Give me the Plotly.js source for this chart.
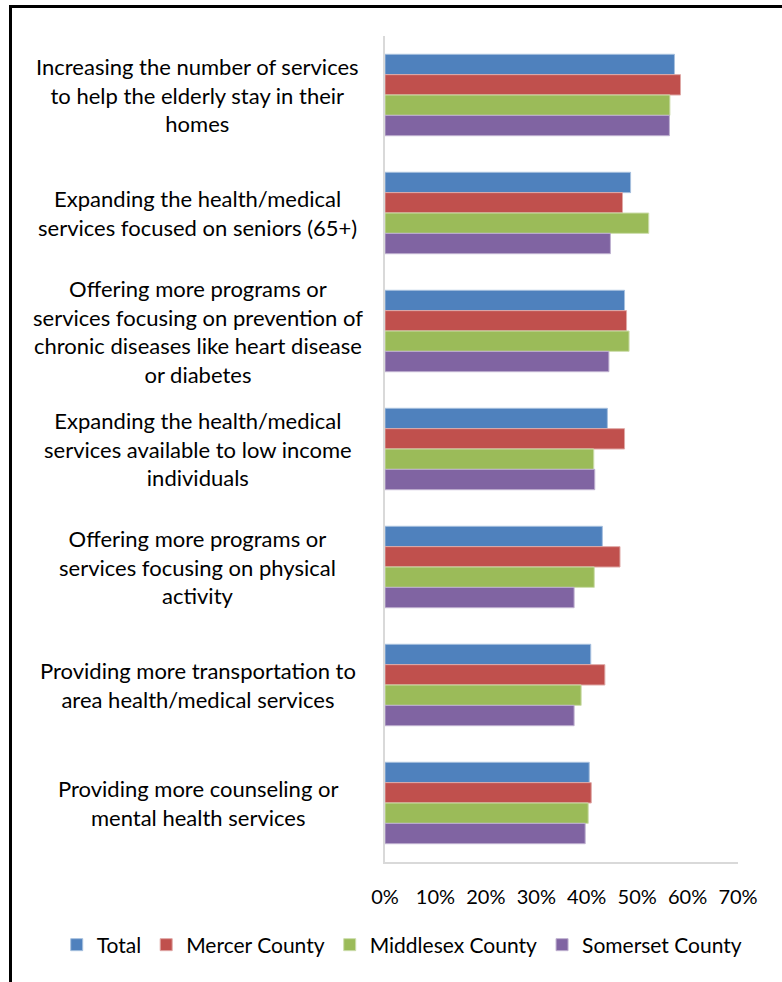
<!DOCTYPE html>
<html>
<head>
<meta charset="utf-8">
<script src="https://cdn.plot.ly/plotly-3.0.1.min.js"></script>
<style>
  html, body { margin: 0; padding: 0; background: #fff; }
  #chart { width: 782px; height: 982px; position: absolute; left: 0; top: 0; }
  #frame { position: absolute; left: 9px; top: 5px; width: 800px; height: 1000px;
           border-left: 3px solid #000; border-top: 3px solid #000; pointer-events: none; }
</style>
</head>
<body>
<div id="chart"></div>
<div id="frame"></div>
<script>
const categories = [
  "Increasing the number of services<br>to help the elderly stay in their<br>homes",
  "Expanding the health/medical<br>services focused on seniors (65+)",
  "Offering more programs or<br>services focusing on prevention of<br>chronic diseases like heart disease<br>or diabetes",
  "Expanding the health/medical<br>services available to low income<br>individuals",
  "Offering more programs or<br>services focusing on physical<br>activity",
  "Providing more transportation to<br>area health/medical services",
  "Providing more counseling or<br>mental health services"
];
const seriesNames = ["Total", "Mercer County", "Middlesex County", "Somerset County"];
const total     = [0.574, 0.487, 0.475, 0.441, 0.431, 0.408, 0.405];
const mercer    = [0.586, 0.471, 0.479, 0.475, 0.466, 0.436, 0.409];
const middlesex = [0.565, 0.523, 0.484, 0.414, 0.415, 0.389, 0.403];
const somerset  = [0.564, 0.447, 0.444, 0.416, 0.375, 0.375, 0.397];
const tickVals  = [0, 0.1, 0.2, 0.3, 0.4, 0.5, 0.6, 0.7];
const tickText  = ["0%", "10%", "20%", "30%", "40%", "50%", "60%", "70%"];

const colors = ["#4F81BD", "#C0504D", "#9BBB59", "#8064A2"];
const edge   = ["#A7C0DE", "#DFA8A6", "#CDDDAC", "#BFB1D0"];
const values = [total, mercer, middlesex, somerset];

const FONT = "Lato, 'Open Sans', sans-serif";

const traces = values.map((v, i) => ({
  type: "bar",
  orientation: "h",
  name: seriesNames[i],
  y: categories,
  x: v,
  marker: { color: colors[i], line: { color: edge[i], width: 1 } },
  hoverinfo: "x+name"
}));

const annotations = categories.map(c => ({
  xref: "paper", yref: "y",
  x: -0.53, y: c,
  text: c,
  showarrow: false,
  xanchor: "center", yanchor: "middle",
  align: "center",
  font: { family: FONT, size: 22, color: "#000" }
}));

const layout = {
  width: 782, height: 982,
  margin: { l: 385, r: 44, t: 36, b: 120, autoexpand: false },
  paper_bgcolor: "#fff", plot_bgcolor: "#fff",
  barmode: "group", bargap: 0.31, bargroupgap: 0,
  showlegend: true,
  legend: {
    orientation: "h", x: -0.93, y: -0.1005, xanchor: "left", yanchor: "middle",
    font: { family: FONT, size: 21, color: "#000" },
    bgcolor: "rgba(0,0,0,0)",
    traceorder: "normal", itemwidth: 30, tracegroupgap: 0
  },
  xaxis: {
    range: [0, 0.7], tickvals: tickVals, ticktext: tickText,
    showgrid: false, zeroline: false,
    showline: true, linecolor: "#D9D9D9", linewidth: 2,
    ticks: "", ticklabelstandoff: 16,
    tickfont: { family: FONT, size: 20, color: "#000" },
    fixedrange: true
  },
  yaxis: {
    type: "category", autorange: "reversed",
    showticklabels: false, showgrid: false, zeroline: false,
    showline: true, linecolor: "#D9D9D9", linewidth: 2,
    ticks: "", fixedrange: true
  },
  annotations: annotations
};

Plotly.newPlot("chart", traces, layout, { displayModeBar: false, staticPlot: true });
</script>
</body>
</html>
